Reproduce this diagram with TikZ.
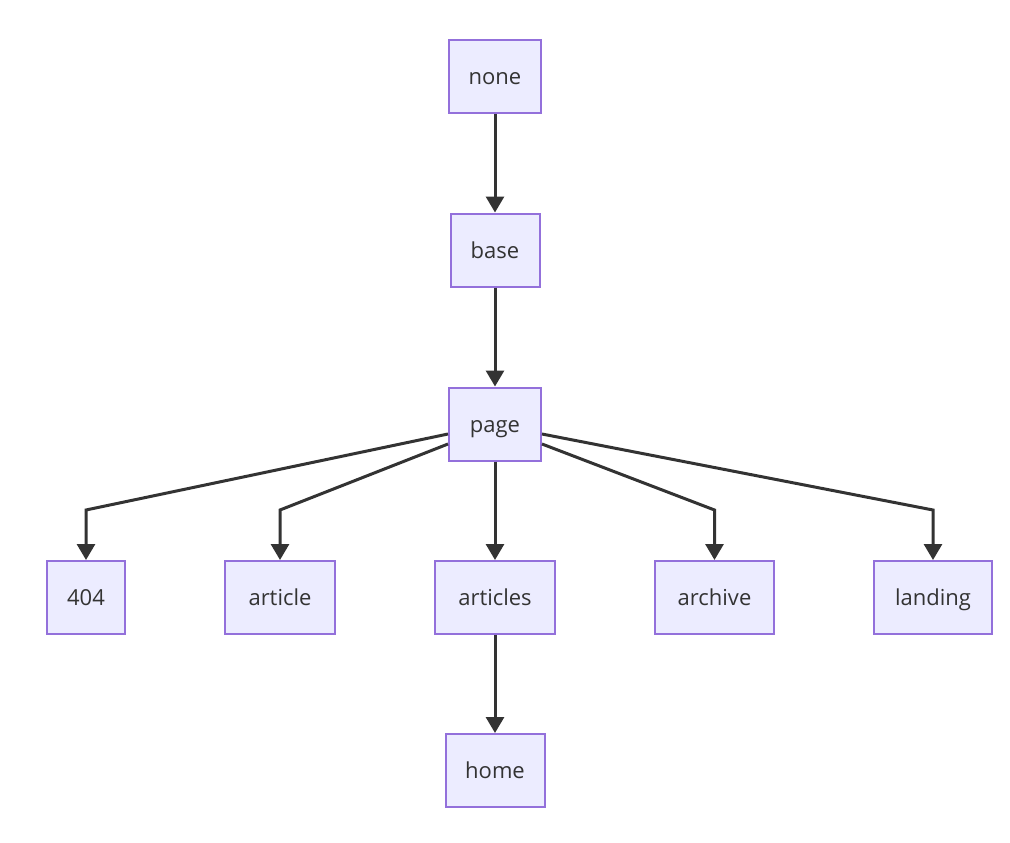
\documentclass[tikz,border=0pt]{standalone}
\usepackage{fontspec}
\setmainfont{Open Sans}
\usepackage{tikz}
\usetikzlibrary{arrows.meta, positioning, calc}
\definecolor{nodefill}{HTML}{ECECFF}
\definecolor{nodeline}{HTML}{9370DB}
\definecolor{edgeline}{HTML}{333333}
\tikzset{
  tmpl/.style={rectangle, draw=nodeline, fill=nodefill, line width=2pt,
    minimum height=73pt, align=center, text=edgeline,
    text height=18pt, text depth=2pt,
    font=\fontsize{22}{26}\selectfont},
  arr/.style={-{Triangle[length=16pt, width=18pt]}, line width=3pt, edgeline},
}
\begin{document}
\begin{tikzpicture}[x=1pt, y=-1pt]
\useasboundingbox (0,0) rectangle (1010,843);

\node[tmpl, minimum width=92pt] (none) at (495,76.5) {none};
\node[tmpl, minimum width=89pt] (base) at (495,250) {base};
\node[tmpl, minimum width=92pt] (page) at (495,424) {page};
\node[tmpl, minimum width=78pt] (p404) at (86,597.5) {404};
\node[tmpl, minimum width=110pt] (article) at (280,597.5) {article};
\node[tmpl, minimum width=120pt] (articles) at (495,597.5) {articles};
\node[tmpl, minimum width=119pt] (archive) at (714.5,597.5) {archive};
\node[tmpl, minimum width=118pt] (landing) at (933,597.5) {landing};
\node[tmpl, minimum width=99pt] (home) at (495,770.5) {home};

% level where the branches turn down
\coordinate (turn) at (0,510);

\draw[arr] (none) -- (base);
\draw[arr] (base) -- (page);
\draw[arr] ([yshift=-10pt]page.west) -- (p404 |- turn) -- (p404);
\draw[arr] ([yshift=-20pt]page.west) -- (article |- turn) -- (article);
\draw[arr] (page) -- (articles);
\draw[arr] ([yshift=-20pt]page.east) -- (archive |- turn) -- (archive);
\draw[arr] ([yshift=-10pt]page.east) -- (landing |- turn) -- (landing);
\draw[arr] (articles) -- (home);

\end{tikzpicture}
\end{document}
